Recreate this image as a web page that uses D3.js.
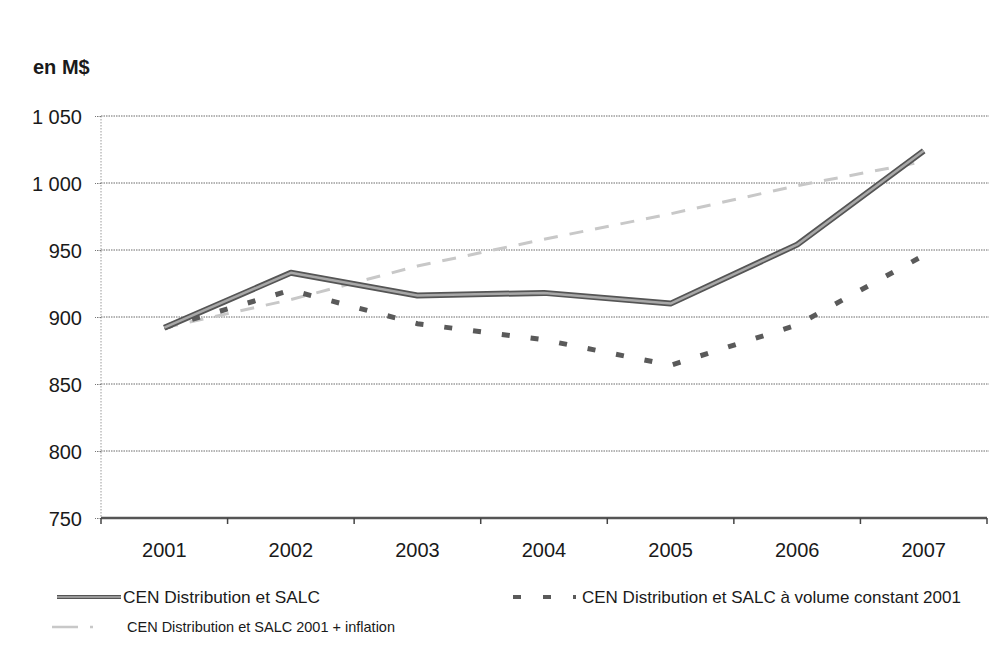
<!DOCTYPE html>
<html>
<head>
<meta charset="utf-8">
<script src="https://cdn.jsdelivr.net/npm/d3@7"></script>
<style>
  html, body { margin: 0; padding: 0; background: #fff; }
  svg { display: block; font-family: "Liberation Sans", Arial, sans-serif; }
</style>
</head>
<body>
<svg id="chart" width="992" height="651"></svg>
<script>
const years = ["2001", "2002", "2003", "2004", "2005", "2006", "2007"];
const cenDistribution = [892, 933, 916, 918, 910, 954, 1024];
const cenVolumeConstant = [892, 920, 895, 883, 864, 894, 946];
const cenInflation = [892, 913, 938, 958, 977, 998, 1016];
const yTicks = [750, 800, 850, 900, 950, 1000, 1050];
const seriesNames = [
  "CEN Distribution et SALC",
  "CEN Distribution et SALC à volume constant 2001",
  "CEN Distribution et SALC 2001 + inflation"
];
const unitLabel = "en M$";

(function () {
const svg = d3.select("#chart");
const pLeft = 101, pRight = 987, pTop = 116, pBottom = 518;

const x = d3.scaleBand().domain(years).range([pLeft, pRight]).padding(0);
const xc = d => x(d) + x.bandwidth() / 2;
const y = d3.scaleLinear().domain([750, 1050]).range([pBottom, pTop]);

const loc = d3.formatLocale({ decimal: ",", thousands: " ", grouping: [3], currency: ["", "$"] });
const fmt = loc.format(",");

// gridlines
svg.append("g").selectAll("line").data(yTicks.slice(1)).join("line")
  .attr("x1", pLeft).attr("x2", pRight + 2)
  .attr("y1", d => y(d)).attr("y2", d => y(d))
  .attr("stroke", "#6a6a6a").attr("stroke-width", 1)
  .attr("stroke-dasharray", "1.5,1");

// y axis (light dotted line)
svg.append("line").attr("x1", pLeft).attr("x2", pLeft).attr("y1", pTop).attr("y2", pBottom)
  .attr("stroke", "#9a9a9a").attr("stroke-dasharray", "1.5,1.5");

const yAxis = d3.axisLeft(y).tickValues(yTicks).tickFormat(fmt).tickSize(6);
const gy = svg.append("g").attr("transform", `translate(${pLeft},0)`).call(yAxis);
gy.select(".domain").remove();
gy.selectAll(".tick line").attr("stroke", "#777").attr("stroke-dasharray", "1.5,1");
gy.selectAll(".tick text").attr("x", -19).attr("dy", "0.35em")
  .attr("font-size", 20).attr("fill", "#1a1a1a")
  .attr("font-family", "'Liberation Sans', Arial, sans-serif");

// x axis
const xAxis = d3.axisBottom(x).tickSize(0).tickPadding(0);
const gx = svg.append("g").attr("transform", `translate(0,${pBottom})`).call(xAxis);
gx.select(".domain").remove();
gx.selectAll(".tick text").attr("y", 25).attr("dy", "0.71em")
  .attr("font-size", 20).attr("fill", "#1a1a1a")
  .attr("font-family", "'Liberation Sans', Arial, sans-serif");
svg.append("line").attr("x1", pLeft).attr("x2", pRight).attr("y1", pBottom).attr("y2", pBottom)
  .attr("stroke", "#555").attr("stroke-width", 2.5);
const boundaries = years.map(d => x(d)).concat([x(years[years.length - 1]) + x.bandwidth()]);
svg.append("g").selectAll("line").data(boundaries).join("line")
  .attr("x1", d => d).attr("x2", d => d).attr("y1", pBottom).attr("y2", pBottom + 6)
  .attr("stroke", "#444").attr("stroke-width", 1.5);

// unit label
svg.append("text").attr("x", 33).attr("y", 74).text(unitLabel)
  .attr("font-size", 20).attr("font-weight", "bold").attr("fill", "#1a1a1a");

const line = d3.line().x((d, i) => xc(years[i])).y(d => y(d));

// inflation series
svg.append("path").datum(cenInflation).attr("d", line).attr("fill", "none")
  .attr("stroke", "#c8c8c8").attr("stroke-width", 3).attr("stroke-dasharray", "14,12");

// volume constant series (dashed)
svg.append("path").datum(cenVolumeConstant).attr("d", line).attr("fill", "none")
  .attr("stroke", "#5a5a5a").attr("stroke-width", 5).attr("stroke-dasharray", "8,21");

// main series
svg.append("path").datum(cenDistribution).attr("d", line).attr("fill", "none")
  .attr("stroke", "#555").attr("stroke-width", 6).attr("stroke-linejoin", "round");
svg.append("path").datum(cenDistribution).attr("d", line).attr("fill", "none")
  .attr("stroke", "#a8a8a8").attr("stroke-width", 2.5).attr("stroke-linejoin", "round");

// legend
const lg = svg.append("g").attr("fill", "#1a1a1a");
lg.append("line").attr("x1", 57).attr("x2", 121).attr("y1", 597).attr("y2", 597)
  .attr("stroke", "#555").attr("stroke-width", 4);
lg.append("line").attr("x1", 57).attr("x2", 121).attr("y1", 597).attr("y2", 597)
  .attr("stroke", "#b0b0b0").attr("stroke-width", 1.5);
lg.append("text").attr("x", 123).attr("y", 603).attr("font-size", 17.3).text(seriesNames[0]);
lg.append("line").attr("x1", 513).attr("x2", 576).attr("y1", 597).attr("y2", 597)
  .attr("stroke", "#5a5a5a").attr("stroke-width", 4).attr("stroke-dasharray", "8,22");
lg.append("text").attr("x", 582).attr("y", 603).attr("font-size", 17).text(seriesNames[1]);
lg.append("line").attr("x1", 52).attr("x2", 93).attr("y1", 627).attr("y2", 627)
  .attr("stroke", "#c8c8c8").attr("stroke-width", 2.5).attr("stroke-dasharray", "26,12");
lg.append("text").attr("x", 127).attr("y", 632).attr("font-size", 14.5).text(seriesNames[2]);
})();
</script>
</body>
</html>
